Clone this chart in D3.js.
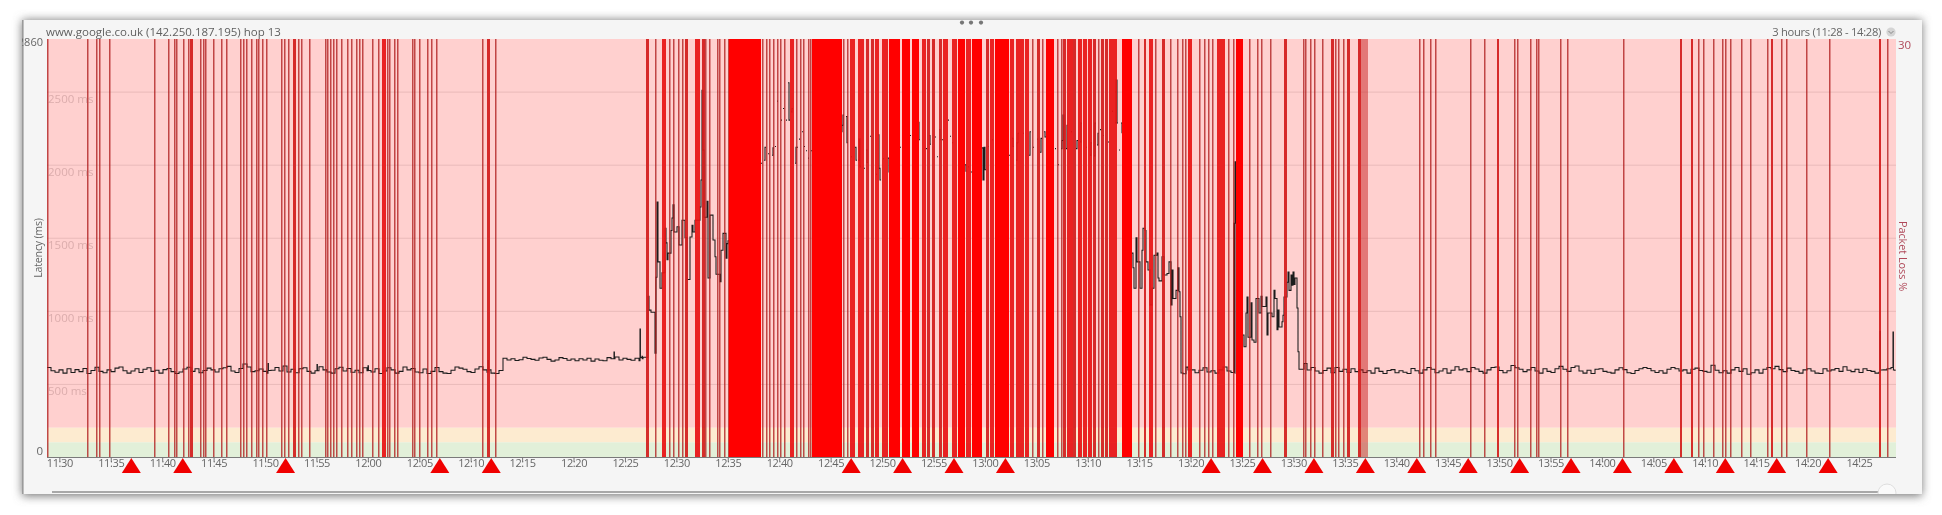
<!DOCTYPE html>
<html><head><meta charset="utf-8">
<script src="https://cdn.jsdelivr.net/npm/d3@7"></script>
<style>
html,body{margin:0;padding:0;background:#fff;overflow:hidden}
svg{display:block;font-family:"Open Sans",sans-serif}
</style></head><body>
<svg id="c" width="1942" height="515"></svg>
<script>
// ---- data: samples are ~5.83 s apart over the three-hour window
const windowStart = new Date(2023, 0, 1, 11, 28, 48);
const windowEnd = new Date(2023, 0, 1, 14, 28, 36);
const sampleSeconds = 10788 / 1849;
const titleText = "www.google.co.uk (142.250.187.195) hop 13";
const rangeText = "3 hours (11:28 - 14:28)";
const gridValues = [500, 1000, 1500, 2000, 2500];
const latencyMax = 2860;
const goodLimit = 100, warnLimit = 200;

// baseline latency, one reading every 4 samples from the given start sample
const quietStartA = 0;
const quietA = [612,590,580,596,574,604,578,598,584,606,572,592,614,586,576,596,584,608,616,590,574,588,604,578,600,610,586,594,574,598,606,584,572,582,602,614,586,604,576,592,608,596,582,604,610,620,588,578,606,636,616,584,590,602,586,574,594,612,588,622,582,600,576,604,610,586,574,590,618,596,582,574,604,614,588,606,580,594,576,610,590,582,604,572,588,610,596,574,586,616,596,606,582,576,602,572,586,612,584,574,572,594,616,608,600,584,578,602,618,596,580,574,572,592];
const quietStartB = 456;
const quietB = [676,664,672,660,666,682,674,668,662,678,682,668,656,664,680,674,662,670,658,672,664,676,656,670,662,658,680,672,684,664,676,668,662,676,658,682];
const quietStartD = 1144;
const quietD = [596,576,594,610,582,590,574,596,616,588,578,570];
const quietStartE = 1264;
const quietE = [612,588,574,592,608,576,612,586,600,578,604,584,596,578,590,574,608,586,572,592,598,576,590,580,572,606,590,574,596,612,600,576,588,604,574,594,618,596,604,584,612,602,586,574,596,612,616,592,576,590,626,610,600,584,596,612,588,574,604,586,578,604,620,600,586,612,622,588,574,594,572,600,604,586,580,574,596,610,598,576,572,592,604,612,606,590,578,590,574,600,612,604,588,596,574,600,608,592,586,580,628,594,576,590,574,596,612,586,604,566,576,596,574,600,612,604,620,598,584,608,592,586,574,596,604,588,574,572,604,588,596,606,586,618,594,584,600,578,604,592,586,574,580,596,604,612,588];

// readings that do not sit on the baseline
const spikeSamples = [221,221.4,270,270.4,321,321.4,441,441.4,567,567.4,593,593.4,595,595.4,1833,1833.4,1846,1846.4];
const spikeValues  = [640,592,632,590,625,592,660,596,718,672,875,680,690,672,860,595,855,595];
const burstASamples = [601,602,604,608,609,610,611,613,615,618,619,620,621,624,625,626,627,630,632,635,638,640,643,645,646,648,653,654,655,656,657,660,661,663,666,668,669,673,674,676,679,680,681];
const burstAValues  = [1100,1005,990,710,1230,1745,1335,1155,1260,1565,1465,1350,1395,1550,1635,1725,1540,1575,1450,1620,1500,1215,1505,1585,1540,1620,1710,1895,2510,2100,1640,1750,1225,1655,1485,1370,1250,1200,1415,1530,1360,1460,1480];
const burstBSamples = [714,717,718,721,725,726,728,730,734,736,739,741,742,744,745,748,749,750,752,755,757,759,761,764,794,795,796,799,800,804,808,809,811,812,813,817,819,820,823,829,831,832,833,836,841,842,846,853,863,871,872,879,882,883,888,890,892,893,895,901,903,905,912,914,918,919,921,924,926,935,936,937,938,941,945,948,949,955,962,965,966,969,970,971,976,982,983,986,990,993,994,997,998,1006,1008,1011,1014,1015,1016,1017,1019,1020,1024,1029,1030,1033,1034,1039,1043,1044,1047,1048,1050,1051,1053,1056,1061,1065,1068,1069,1070,1072,1074,1075];
const burstBValues  = [2010,2030,2120,2075,2065,2115,2125,2435,2305,2385,2305,2560,2305,2360,2385,2010,2120,2120,2175,2225,2125,2095,2045,2095,2225,2270,2340,2330,2150,2055,2120,2030,2030,2175,1985,1975,2100,2015,2195,1935,2205,1975,1895,2040,2045,1950,2190,2120,2200,2290,2170,2110,2200,2140,2190,2055,2240,2170,2170,2305,2195,2150,1990,2170,2000,1955,1985,1950,2020,2115,1895,2120,1965,2125,2170,2030,2200,2180,2065,2180,2125,2030,2150,2215,2215,2065,2225,2120,2175,2085,2180,2225,2190,2065,2110,2000,2110,2165,2340,2110,2110,2270,2225,2110,2165,2155,2285,2120,2065,2150,2060,2285,2135,2215,2240,2200,2155,2365,2285,2580,2285,2100,2285,2215];
const burstCSamples = [1085,1086,1087,1089,1090,1093,1095,1096,1098,1099,1101,1103,1105,1107,1110,1111,1112,1115,1117,1120,1122,1124,1125,1126,1129,1131,1132,1133,1134,1136,1139,1141];
const burstCValues  = [1395,1295,1155,1500,1335,1155,1415,1565,1550,1335,1280,1040,1155,1380,1395,1225,1205,1370,1245,1255,1335,1040,1280,1085,1140,1295,1130,960,575,570,615,595];
const burstDSamples = [1187,1188,1189,1195,1197,1199,1200,1201,1204,1205,1207,1209,1212,1214,1215,1217,1219,1220,1221,1225,1227,1228,1230,1231,1232,1235,1236,1237,1239,1240,1241,1242,1244,1245,1246,1247,1248,1250,1251,1252,1255,1257,1260];
const burstDValues  = [1600,2020,1600,835,755,985,1095,820,1055,800,785,1085,985,1100,1030,1030,1095,835,985,960,1140,1085,870,1005,890,925,970,1095,1095,1195,1265,1140,1245,1175,1265,1180,1225,1020,720,600,600,640,595];

// packet loss: single lost samples, and runs of lost samples [first, last]
const lossSingles = [0,40,49,52,62,107,121,127,129,136,141,153,156,158,166,174,179,193,196,199,204,209,211,215,219,234,237,241,251,254,262,278,280,283,286,289,294,300,304,309,312,315,325,331,340,342,347,350,365,367,372,380,384,389,435,448,608,622,626,631,635,658,662,670,672,677,681,715,719,722,726,730,733,737,749,753,756,761,763,796,800,985,995,1010,1014,1051,1091,1108,1123,1130,1135,1138,1152,1157,1161,1165,1181,1186,1202,1210,1214,1223,1256,1258,1263,1267,1275,1288,1291,1296,1372,1376,1383,1388,1423,1437,1467,1470,1483,1489,1491,1513,1520,1576,1651,1656,1666,1675,1678,1683,1694,1703,1720,1734,1739,1759,1782,1840];
const lossRuns = [[143,145],[246,248],[335,338],[440,442],[599,601],[615,618],[638,640],[648,652],[655,657],[682,713],[743,746],[765,794],[803,807],[811,816],[819,821],[824,826],[828,831],[835,840],[842,852],[855,862],[865,871],[875,878],[880,882],[885,887],[892,894],[896,900],[905,909],[911,917],[919,923],[925,934],[939,941],[943,946],[948,961],[963,966],[969,972],[973,976],[978,981],[990,992],[999,1006],[1016,1018],[1020,1025],[1026,1028],[1031,1034],[1036,1039],[1041,1044],[1046,1048],[1054,1056],[1058,1060],[1062,1065],[1066,1069],[1075,1084],[1097,1098],[1102,1105],[1115,1117],[1141,1144],[1170,1173],[1174,1177],[1189,1195],[1237,1239],[1284,1286],[1300,1302],[1311,1313],[1450,1451],[1633,1634],[1644,1645],[1724,1725],[1832,1833]];
const lossFaintRuns = [[1314,1320]];

// alert markers
const alertTimes = ["11:37","11:42","11:52","12:07","12:12","12:47","12:52","12:57","13:02","13:22","13:27","13:32","13:37","13:42","13:47","13:52","13:57","14:02","14:07","14:12","14:17","14:22"];

// ---- drawing
const svg = d3.select("#c");
const L = 47, R = 1896, T = 39, B = 457;
const sampleTime = s => new Date(+windowStart + s * sampleSeconds * 1000);
const x = d3.scaleTime().domain([windowStart, windowEnd]).range([L, R]);
const y = d3.scaleLinear().domain([0, latencyMax]).range([B, T]);
const fx = s => x(sampleTime(s));

const defs = svg.append("defs");
const blur = defs.append("filter").attr("id","sh").attr("x","-5%").attr("y","-10%").attr("width","110%").attr("height","120%");
blur.append("feGaussianBlur").attr("stdDeviation",5);
const soft = defs.append("filter").attr("id","soft");
soft.append("feGaussianBlur").attr("stdDeviation",0.35);
defs.append("clipPath").attr("id","plot").append("rect").attr("x",L).attr("y",T).attr("width",R-L).attr("height",B-T);
defs.append("clipPath").attr("id","panel").append("rect").attr("x",22).attr("y",20).attr("width",1900).attr("height",474);

svg.append("rect").attr("x",22).attr("y",20).attr("width",1900).attr("height",476).attr("fill","#777").attr("filter","url(#sh)");
const panel = svg.append("g").attr("clip-path","url(#panel)");
panel.append("rect").attr("x",22).attr("y",20).attr("width",1900).attr("height",474).attr("fill","#f5f5f5");
panel.append("rect").attr("x",22).attr("y",20).attr("width",1.6).attr("height",474).attr("fill","#9a9a9a");

const g = panel.append("g").attr("filter","url(#soft)");
// latency bands
g.append("rect").attr("x",L).attr("width",R-L).attr("y",y(latencyMax)).attr("height",y(warnLimit)-y(latencyMax)).attr("fill","#ffd0cf");
g.append("rect").attr("x",L).attr("width",R-L).attr("y",y(warnLimit)).attr("height",y(goodLimit)-y(warnLimit)).attr("fill","#fdebd0");
g.append("rect").attr("x",L).attr("width",R-L).attr("y",y(goodLimit)).attr("height",y(0)-y(goodLimit)).attr("fill","#e2f0d9");
// grid
g.selectAll("line.grid").data(gridValues).join("line").attr("class","grid")
 .attr("x1",L).attr("x2",R).attr("y1",d=>y(d)+.5).attr("y2",d=>y(d)+.5).attr("stroke","#b98a8a").attr("stroke-opacity",.3);
g.selectAll("text.gl").data(gridValues).join("text").attr("class","gl")
 .attr("x",L+1).attr("y",d=>y(d)+11).attr("font-size",11.5).attr("fill","#c79a9a").attr("fill-opacity",.65).text(d=>d+" ms");

// latency line: a lost sample leaves a break in the trace
const quiet = (start, vals) => vals.map((v,i)=>[start+i*4, v]);
const zipped = (s, v) => s.map((d,i)=>[d, v[i]]);
const withBreaks = (pts, maxGap) => {
  const out = [];
  pts.forEach((p,i) => {
    out.push(p);
    const next = pts[i+1];
    if (next && next[0]-p[0] > maxGap) { out.push([p[0]+1, p[1]]); out.push(null); }
  });
  return out;
};
const calm = [].concat(
  quiet(quietStartA,quietA), quiet(quietStartB,quietB), quiet(quietStartD,quietD), quiet(quietStartE,quietE),
  zipped(spikeSamples,spikeValues), zipped(burstASamples,burstAValues),
  zipped(burstCSamples,burstCValues), zipped(burstDSamples,burstDValues)
).sort((a,b)=>d3.ascending(a[0],b[0]));
const stormy = zipped(burstBSamples,burstBValues);
const line = d3.line().defined(d=>d!==null).x(d=>fx(d[0])).y(d=>y(d[1])).curve(d3.curveStepAfter);
const traces = g.append("g").attr("clip-path","url(#plot)").attr("fill","none").attr("stroke","#1c1c1c").attr("stroke-width",1.05);
traces.append("path").attr("d",line(withBreaks(calm,5)));
traces.append("path").attr("d",line(withBreaks(stormy,1)));

// packet-loss bars
const runColour = n => n >= 6 ? "#ff0000" : n >= 3 ? "#e81212" : "#d21c1c";
const bars = g.append("g").attr("clip-path","url(#plot)");
bars.selectAll("rect.s").data(lossSingles).join("rect").attr("class","s")
 .attr("x",d=>fx(d)).attr("width",1.5).attr("y",T).attr("height",B-T)
 .attr("fill","#b01c1c").attr("fill-opacity",.78);
bars.selectAll("rect.f").data(lossFaintRuns).join("rect").attr("class","f")
 .attr("x",d=>fx(d[0])).attr("width",d=>fx(d[1]+1)-fx(d[0])).attr("y",T).attr("height",B-T)
 .attr("fill","#c82020").attr("fill-opacity",.5);
bars.selectAll("rect.r").data(lossRuns).join("rect").attr("class","r")
 .attr("x",d=>fx(d[0])).attr("width",d=>fx(d[1]+1)-fx(d[0])).attr("y",T).attr("height",B-T)
 .attr("fill",d=>runColour(d[1]-d[0])).attr("fill-opacity",d=>d[1]-d[0]>=6?1:.92);

// x axis
const ax = d3.axisBottom(x).ticks(d3.timeMinute.every(5)).tickFormat(d3.timeFormat("%H:%M")).tickSize(4);
const axg = g.append("g").attr("transform",`translate(0,${B+.5})`).call(ax);
axg.select(".domain").attr("stroke","#7a7a7a").attr("d",`M${L},0H${R}`);
axg.selectAll(".tick line").attr("stroke","#777");
axg.selectAll(".tick text").attr("fill","#666").attr("font-size",11).attr("letter-spacing",-0.4).attr("font-family",'"Open Sans",sans-serif').attr("y",2).attr("dy","0.71em");

// alert triangles
const parseT = d3.timeParse("%H:%M");
const alertX = t => { const p = parseT(t); return x(new Date(2023,0,1,p.getHours(),p.getMinutes())); };
g.selectAll("path.alert").data(alertTimes).join("path").attr("class","alert")
 .attr("transform",d=>`translate(${alertX(d)},${B+1})`).attr("d","M0,0L9.5,15L-9.5,15Z").attr("fill","#f00000");

// labels
const txt = (x0,y0,s,size,fill,anchor) => g.append("text").attr("x",x0).attr("y",y0).attr("font-size",size).attr("fill",fill).attr("text-anchor",anchor||"start").text(s);
txt(46,36,titleText,11.5,"#5f5f5f");
txt(1881,36,rangeText,11.2,"#666","end").attr("letter-spacing",-0.3);
txt(43,46,String(latencyMax),11,"#666","end");
txt(43,455,"0",11.5,"#666","end");
txt(1898,49,"30",11.5,"#b04a5a");
g.append("text").attr("transform","translate(42,248) rotate(-90)").attr("text-anchor","middle").attr("font-size",10.6).attr("letter-spacing",-0.2).attr("fill","#666").text("Latency (ms)");
g.append("text").attr("transform","translate(1899,256) rotate(90)").attr("text-anchor","middle").attr("font-size",10.8).attr("fill","#b04a5a").text("Packet Loss %");

// window furniture
g.append("circle").attr("cx",1891).attr("cy",32).attr("r",4.6).attr("fill","#d4d4d4");
g.append("path").attr("d","M1888.5,31L1891,33.5L1893.5,31").attr("fill","none").attr("stroke","#888").attr("stroke-width",1);
g.selectAll("circle.dot").data([962,971,981]).join("circle").attr("class","dot").attr("cx",d=>d).attr("cy",22.6).attr("r",2.1).attr("fill","#777");
g.append("line").attr("x1",52).attr("x2",1880).attr("y1",492).attr("y2",492).attr("stroke","#a8a8a8").attr("stroke-width",2);
g.append("circle").attr("cx",1887).attr("cy",493).attr("r",9).attr("fill","#fafafa").attr("stroke","#ddd");
</script>
</body></html>
